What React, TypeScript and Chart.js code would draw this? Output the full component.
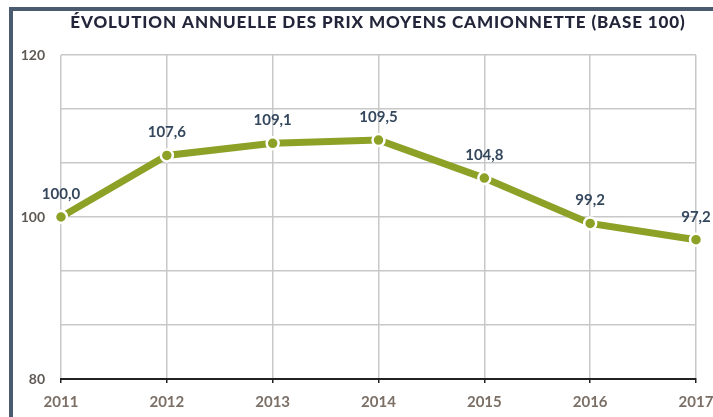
import React, { useEffect, useRef } from "react";
import { Chart, registerables } from "chart.js";

Chart.register(...registerables);

const TITLE = "ÉVOLUTION ANNUELLE DES PRIX MOYENS CAMIONNETTE (BASE 100)";
const years = ["2011", "2012", "2013", "2014", "2015", "2016", "2017"];
const prices = [100.0, 107.6, 109.1, 109.5, 104.8, 99.2, 97.2];
const yGridValues = [80, 86.667, 93.333, 100, 106.667, 113.333, 120];
const yLabelValues = [80, 100, 120];

const GREEN = "#8da127";
const FONT = "Lato, 'Open Sans', sans-serif";

const titlePlugin = {
  id: "customTitle",
  afterDraw(chart: any) {
    const { ctx } = chart;
    ctx.save();
    ctx.font = `900 17px ${FONT}`;
    (ctx as any).letterSpacing = "0.9px";
    ctx.fillStyle = "#23263a";
    ctx.textAlign = "center";
    ctx.textBaseline = "middle";
    ctx.fillText(TITLE, 378, 23);
    ctx.restore();
  },
};

const dataLabelPlugin = {
  id: "dataLabels",
  afterDatasetsDraw(chart: any) {
    const { ctx } = chart;
    const meta = chart.getDatasetMeta(0);
    ctx.save();
    ctx.font = `bold 15px ${FONT}`;
    ctx.fillStyle = "#34475c";
    ctx.textAlign = "center";
    ctx.textBaseline = "middle";
    meta.data.forEach((pt: any, i: number) => {
      const txt = prices[i].toFixed(1).replace(".", ",");
      ctx.fillText(txt, pt.x, pt.y - 23);
    });
    ctx.restore();
  },
};

export default function App() {
  const ref = useRef<HTMLCanvasElement>(null);
  useEffect(() => {
    if (!ref.current) return;
    const chart = new Chart(ref.current, {
      type: "line",
      data: {
        labels: years,
        datasets: [
          {
            data: prices,
            borderColor: GREEN,
            borderWidth: 7,
            pointRadius: 6,
            pointBackgroundColor: GREEN,
            pointBorderColor: "#ffffff",
            pointBorderWidth: 2.5,
            tension: 0,
            clip: false as any,
          },
        ],
      },
      options: {
        animation: false,
        responsive: false,
        maintainAspectRatio: false,
        layout: { padding: { left: 11, right: 17, top: 55, bottom: 0 } },
        plugins: {
          legend: { display: false },
          tooltip: { enabled: false },
          title: { display: false },
        },
        scales: {
          x: {
            offset: false,
            grid: {
              color: "#c8c8c8",
              lineWidth: 1.5,
              tickColor: "#222",
              tickLength: 4,
              drawTicks: true,
            },
            border: { display: true, color: "#222", width: 2 },
            ticks: {
              color: "#7b6f66",
              font: { family: FONT, size: 15, weight: "bold" },
              padding: 10,
              maxRotation: 0,
            },
            afterFit(scale: any) {
              scale.height = 38;
              scale.paddingLeft = 0;
              scale.paddingRight = 0;
            },
          },
          y: {
            min: 80,
            max: 120,
            grid: { color: "#c8c8c8", lineWidth: 1.5, drawTicks: false },
            border: { display: false },
            ticks: {
              color: "#5f5a55",
              font: { family: FONT, size: 14, weight: "bold" },
              padding: 16,
              callback: (v: any) =>
                yLabelValues.includes(Math.round(Number(v) * 1000) / 1000) ? String(v) : "",
            },
            afterBuildTicks(scale: any) {
              scale.ticks = yGridValues.map((v) => ({ value: v }));
            },
            afterFit(scale: any) {
              scale.width = 50;
              scale.paddingTop = 0;
              scale.paddingBottom = 0;
            },
          },
        },
      },
      plugins: [dataLabelPlugin, titlePlugin],
    });
    return () => chart.destroy();
  }, []);

  return (
    <div
      style={{
        position: "fixed",
        left: 0,
        top: 0,
        width: 713,
        height: 417,
        background: "#fff",
        overflow: "hidden",
      }}
    >
      <div
        style={{
          position: "absolute",
          left: 9,
          top: 7,
          width: 720,
          height: 420,
          borderLeft: "4px solid #4a5a6f",
          borderTop: "4px solid #4a5a6f",
        }}
      />
      <canvas
        ref={ref}
        width={713}
        height={417}
        style={{ position: "absolute", left: 0, top: 0 }}
      />
    </div>
  );
}
